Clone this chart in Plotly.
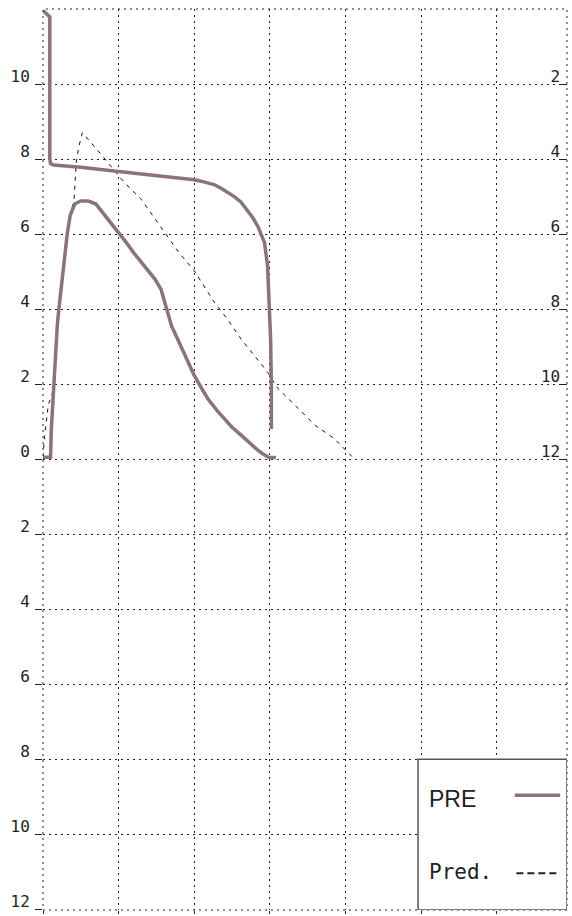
import plotly.graph_objects as go

# PRE measured curve: upper limb (volume trace) and flow-volume loop
pre_upper_x = [0.0, 0.05, 0.09, 0.09, 0.10, 0.14, 0.50, 1.00, 1.50, 2.00, 2.09, 2.26, 2.35, 2.53, 2.62,
               2.70, 2.78, 2.84, 2.88, 2.93, 2.97, 2.99, 3.01, 3.02, 3.02]
pre_upper_y = [11.96, 11.88, 11.79, 8.0, 7.88, 7.84, 7.78, 7.67, 7.57, 7.45, 7.41, 7.32, 7.23, 7.0, 6.85,
               6.65, 6.42, 6.21, 6.0, 5.77, 5.15, 4.27, 3.2, 2.0, 0.8]

pre_loop_x = [0.0, 0.10, 0.11, 0.13, 0.14, 0.16, 0.19, 0.21, 0.25, 0.29, 0.32, 0.36, 0.42, 0.50, 0.60,
              0.70, 0.80, 0.90, 1.00, 1.10, 1.20, 1.30, 1.38, 1.48, 1.56, 1.60, 1.64, 1.70, 1.78, 1.90,
              2.00, 2.10, 2.18, 2.30, 2.40, 2.50, 2.62, 2.73, 2.84, 2.92, 2.99, 3.08]
pre_loop_y = [0.05, 0.05, 0.8, 1.5, 2.0, 2.9, 3.6, 4.0, 4.8, 5.5, 6.0, 6.5, 6.8, 6.88, 6.88,
              6.8, 6.55, 6.3, 6.04, 5.78, 5.5, 5.25, 5.06, 4.8, 4.53, 4.25, 3.91, 3.55, 3.2, 2.68,
              2.23, 1.88, 1.61, 1.3, 1.08, 0.85, 0.64, 0.43, 0.24, 0.12, 0.04, 0.04]

# Predicted curve
pred_x = [0.0, 0.02, 0.05, 0.07, 0.13, 0.14, 0.16, 0.21, 0.25, 0.29, 0.32, 0.36, 0.41, 0.42, 0.44,
          0.47, 0.52, 0.65, 0.78, 1.00, 1.16, 1.29, 1.45, 1.62, 1.80, 2.00, 2.26, 2.45, 2.62, 2.80,
          2.97, 3.10, 3.25, 3.41, 3.60, 3.85, 4.00, 4.12]
pred_y = [0.05, 0.6, 1.1, 1.45, 1.8, 2.0, 2.9, 4.0, 4.8, 5.5, 6.0, 6.5, 6.9, 7.4, 7.9,
          8.3, 8.7, 8.4, 8.1, 7.55, 7.2, 6.95, 6.5, 6.04, 5.5, 5.02, 4.2, 3.7, 3.2, 2.75,
          2.32, 1.9, 1.6, 1.26, 0.9, 0.55, 0.25, 0.0]

# Axis ticks
left_tickvals = [-12, -10, -8, -6, -4, -2, 0, 2, 4, 6, 8, 10]
left_ticktext = ["12", "10", "8", "6", "4", "2", "0", "2", "4", "6", "8", "10"]
right_tickvals = [2, 4, 6, 8, 10, 12]
right_ticktext = ["2", "4", "6", "8", "10", "12"]
x_tickvals = [0, 1, 2, 3, 4, 5, 6, 7]

legend_labels = ["PRE", "Pred."]

PRE_COLOR = "#8a7477"
GRID_DASH = "2px,4px"

fig = go.Figure()
fig.add_trace(go.Scatter(x=pred_x, y=pred_y, mode="lines", name="Pred.",
                         line=dict(color="#111111", width=1, dash="4px,5px"), showlegend=False))
fig.add_trace(go.Scatter(x=pre_upper_x, y=pre_upper_y, mode="lines", name="PRE",
                         line=dict(color=PRE_COLOR, width=3.5), showlegend=False))
fig.add_trace(go.Scatter(x=pre_loop_x, y=pre_loop_y, mode="lines", name="PRE",
                         line=dict(color=PRE_COLOR, width=3.5), showlegend=False))
# empty trace to anchor right axis
fig.add_trace(go.Scatter(x=[None], y=[None], yaxis="y2", mode="lines", showlegend=False,
                         hoverinfo="skip"))

tick_font = dict(family="DejaVu Sans Mono", size=16, color="#222222")

fig.update_layout(
    width=572, height=916,
    margin=dict(l=43, r=5, t=9, b=3),
    paper_bgcolor="white", plot_bgcolor="white",
    showlegend=False,
    xaxis=dict(range=[0, 6.93], tickvals=x_tickvals, showticklabels=False,
               ticks="outside", ticklen=3, tickcolor="#222",
               showgrid=True, gridcolor="#222", gridwidth=1, griddash=GRID_DASH,
               zeroline=False, showline=False),
    yaxis=dict(range=[-12.02, 12], tickvals=left_tickvals, ticktext=left_ticktext,
               ticks="outside", ticklen=7, tickcolor="#222", tickfont=tick_font,
               ticklabelshift=-8, ticklabelstandoff=2,
               showgrid=True, gridcolor="#222", gridwidth=1, griddash=GRID_DASH,
               zeroline=False, showline=False),
    yaxis2=dict(range=[24.02, 0], overlaying="y", side="right",
                tickvals=right_tickvals, ticktext=right_ticktext,
                ticks="inside", ticklen=7, tickcolor="#222", tickfont=tick_font,
                ticklabelposition="inside", ticklabelshift=8,
                showgrid=False, zeroline=False, showline=False),
)

# dotted frame
fig.add_shape(type="rect", xref="paper", yref="paper", x0=0, x1=1, y0=0, y1=1,
              line=dict(color="#222", width=1, dash=GRID_DASH), layer="above")

# legend box
fig.add_shape(type="rect", xref="x", yref="y", x0=4.96, x1=6.93, y0=-12.02, y1=-8,
              line=dict(color="#555", width=1.5), fillcolor="white", layer="above")
fig.add_annotation(x=5.08, y=-9.05, xref="x", yref="y", text=legend_labels[0], showarrow=False,
                   xanchor="left", yanchor="middle",
                   font=dict(family="Liberation Sans", size=23, color="#222"))
fig.add_annotation(x=5.08, y=-11.02, xref="x", yref="y", text=legend_labels[1], showarrow=False,
                   xanchor="left", yanchor="middle",
                   font=dict(family="DejaVu Sans Mono", size=21, color="#222"))
fig.add_shape(type="line", xref="x", yref="y", x0=6.24, x1=6.84, y0=-8.96, y1=-8.96,
              line=dict(color=PRE_COLOR, width=3.5), layer="above")
fig.add_shape(type="line", xref="x", yref="y", x0=6.26, x1=6.79, y0=-11.04, y1=-11.04,
              line=dict(color="#222", width=2, dash="7px,4px"), layer="above")

fig.write_html("out.html", config={"displayModeBar": False},
               post_script="document.body.style.margin='0';document.body.style.overflow='hidden';")
